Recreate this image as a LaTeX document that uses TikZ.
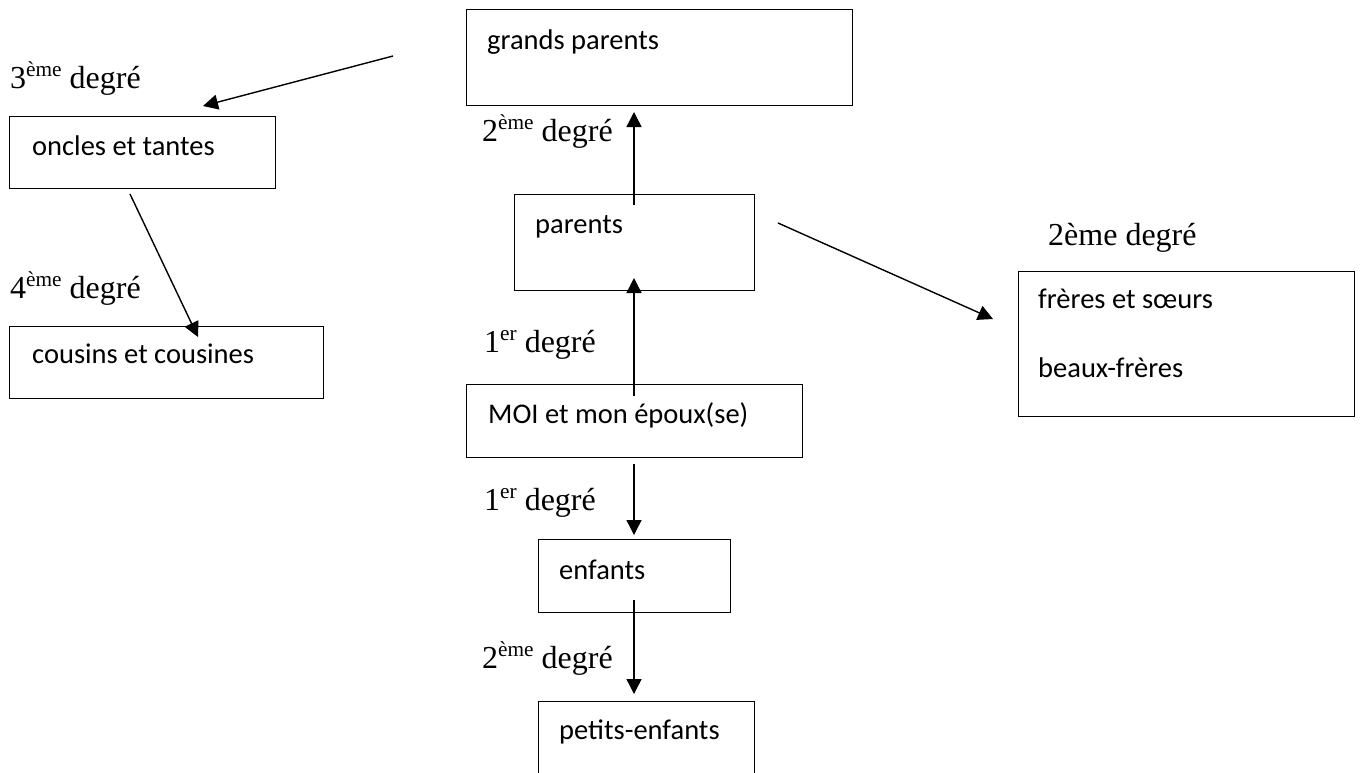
\documentclass[tikz,border=0pt]{standalone}
\usepackage{fontspec}
\setmainfont{Liberation Serif}
\newfontfamily\boxfont{Carlito}
\usetikzlibrary{arrows.meta}
\newcommand\sps[1]{\raisebox{11.5pt}{\fontsize{21.3pt}{21.3pt}\selectfont #1}}
\begin{document}
\begin{tikzpicture}[x=1pt,y=-1pt,
  box/.style={draw, line width=1.4pt, rectangle, inner sep=0pt, anchor=north west},
  boxtext/.style={anchor=base west, inner sep=0pt, font=\boxfont\fontsize{28.5pt}{34pt}\selectfont},
  deg/.style={anchor=base west, inner sep=0pt, font=\fontsize{32pt}{38pt}\selectfont},
  arr/.style={-{Triangle[length=15pt,width=15pt]}, line width=1.4pt}]
\useasboundingbox (0,0) rectangle (1365,772);
\clip (0,0) rectangle (1365,772);
\fill[white] (0,0) rectangle (1365,772);

% boxes
\node[box, minimum width=386pt, minimum height=96pt] (gp) at (466,9) {};
\node[box, minimum width=240pt, minimum height=96pt] (par) at (514,194) {};
\node[box, minimum width=336pt, minimum height=73pt] (moi) at (466,384) {};
\node[box, minimum width=192pt, minimum height=73pt] (enf) at (538,539) {};
\node[box, minimum width=216pt, minimum height=99pt] (pet) at (538,701) {};
\node[box, minimum width=266pt, minimum height=72pt] (onc) at (9,116) {};
\node[box, minimum width=314pt, minimum height=72pt] (cou) at (9,326) {};
\node[box, minimum width=336pt, minimum height=145pt] (fre) at (1018,271) {};

% box texts
\node[boxtext] (gpt) at (487,49) {grands parents};
\node[boxtext] (part) at (535,233) {parents};
\node[boxtext] (moit) at (488,423) {MOI et mon époux(se)};
\node[boxtext] (enft) at (559,579) {enfants};
\node[boxtext] (pett) at (559,739) {petits-enfants};
\node[boxtext] (onct) at (32,155) {oncles et tantes};
\node[boxtext] (cout) at (32,363) {cousins et cousines};
\node[boxtext] (fret1) at (1038,308) {frères et sœurs};
\node[boxtext] (fret2) at (1038,377) {beaux-frères};

% degree labels
\node[deg] (d3) at (10,88) {3\sps{ème} degré};
\node[deg] (d4) at (10,298) {4\sps{ème} degré};
\node[deg] (d2a) at (482,141) {2\sps{ème} degré};
\node[deg] (d1a) at (484,352) {1\sps{er} degré};
\node[deg] (d1b) at (484,510) {1\sps{er} degré};
\node[deg] (d2b) at (482,668) {2\sps{ème} degré};
\node[deg] (d2c) at (1048,245) {2ème degré};

% arrow end points
\coordinate (a1s) at (393,56);  \coordinate (a1e) at (203,106);
\coordinate (a2s) at (130,194); \coordinate (a2e) at (198,337);
\coordinate (a3s) at (634,205); \coordinate (a3e) at (634,112);
\coordinate (a4s) at (634,396); \coordinate (a4e) at (634,278);
\coordinate (a5s) at (634,464); \coordinate (a5e) at (634,535);
\coordinate (a6s) at (634,600); \coordinate (a6e) at (634,694);
\coordinate (a7s) at (778,223); \coordinate (a7e) at (993,319);

\draw[arr] (a1s) -- (a1e);
\draw[arr] (a2s) -- (a2e);
\draw[arr] (a3s) -- (a3e);
\draw[arr] (a4s) -- (a4e);
\draw[arr] (a5s) -- (a5e);
\draw[arr] (a6s) -- (a6e);
\draw[arr] (a7s) -- (a7e);
\end{tikzpicture}
\end{document}
